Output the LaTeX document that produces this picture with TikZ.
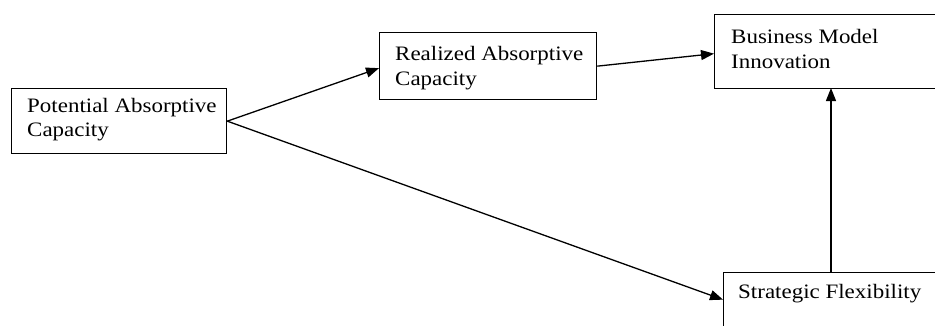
\documentclass[tikz,border=0pt]{standalone}
\usepackage{fontspec}
\setmainfont{Liberation Serif}[FakeStretch=1.12]
\usetikzlibrary{arrows.meta,calc}

\tikzset{
  box/.style={draw=black, line width=1.3pt, fill=white, inner sep=0pt, anchor=north west},
  lbl/.style={inner sep=0pt, anchor=base west, align=left,
              font=\fontsize{20.5}{24.5}\selectfont},
  link/.style={draw=black, line width=1.3pt, -{Triangle[length=13pt,width=10pt]}}
}

\begin{document}
\begin{tikzpicture}[x=1pt, y=-1pt]
  \useasboundingbox (0,0) rectangle (935,325);
  \clip (0,0) rectangle (935,325);

  % boxes
  \node[box, minimum width=215pt, minimum height=65pt] (pac) at (11,88) {};
  \node[box, minimum width=217pt, minimum height=67pt] (rac) at (379,32) {};
  \node[box, minimum width=230pt, minimum height=74pt] (bmi) at (714,14) {};
  \node[box, minimum width=220pt, minimum height=54pt] (sf)  at (723,272) {};

  % labels (anchored on the baseline of their last line)
  \node[lbl] (pac-t) at ($(pac.north west)+(16,48.5)$) {Potential Absorptive\\Capacity};
  \node[lbl] (rac-t) at ($(rac.north west)+(16,53)$)   {Realized Absorptive\\Capacity};
  \node[lbl] (bmi-t) at ($(bmi.north west)+(17,54)$)   {Business Model\\Innovation};
  \node[lbl] (sf-t)  at ($(sf.north west)+(15,26)$)    {Strategic Flexibility};

  % connector ends
  \coordinate (sf-top) at ($(sf.north west)+(108,0)$);
  \coordinate (bmi-bot) at (831,88);

  % connectors
  \draw[link] (pac.east) -- ($(rac.west)+(0,2)$);
  \draw[link] (rac.east) -- ($(bmi.west)+(0,2)$);
  \draw[link] (pac.east) -- (sf.west);
  \draw[link] (sf-top) -- (bmi-bot);
\end{tikzpicture}
\end{document}
